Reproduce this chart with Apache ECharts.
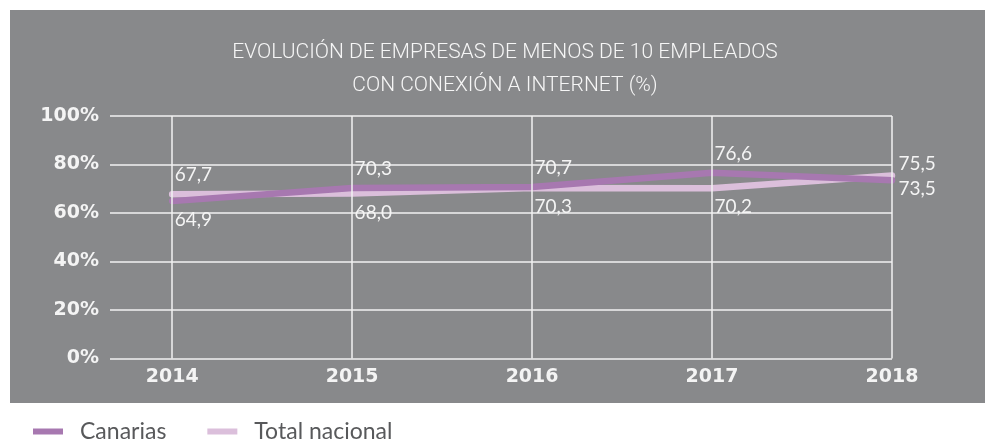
<!DOCTYPE html>
<html><head><meta charset="utf-8">
<script src="https://cdn.jsdelivr.net/npm/echarts@6/dist/echarts.min.js"></script>
<style>html,body{margin:0;padding:0;background:#fff}#c{width:985px;height:439px}</style>
</head><body><div id="c"></div>
<script>
const years = [2014, 2015, 2016, 2017, 2018];
const canarias = [64.9, 70.3, 70.7, 76.6, 73.5];
const totalNacional = [67.7, 68.0, 70.3, 70.2, 75.5];
const yTicks = [0, 20, 40, 60, 80, 100];
const seriesNames = ['Canarias', 'Total nacional'];
const titleText = 'EVOLUCIÓN DE EMPRESAS DE MENOS DE 10 EMPLEADOS\nCON CONEXIÓN A INTERNET (%)';

const COL_C = '#a778b0', COL_T = '#dbbfdb', BG = '#88898b';
const fmt = v => v.toFixed(1).replace('.', ',');

function buildData(vals, other) {
  return vals.map((v, i) => {
    const up = v >= other[i];
    const last = i === vals.length - 1;
    return {
      value: [years[i], v],
      label: {
        show: true,
        position: 'right',
        distance: last ? 6 : 2,
        offset: [0, up ? (last ? -12 : -19) : (last ? 9 : 19)],
        formatter: () => fmt(v),
        color: '#f4f4f4',
        fontFamily: 'Lato',
        fontSize: 19
      }
    };
  });
}

const chart = echarts.init(document.getElementById('c'));
chart.setOption({
  animation: false,
  graphic: [{ type: 'rect', left: 10, top: 10, shape: { width: 975, height: 393 }, style: { fill: BG }, z: -10 }],
  title: {
    text: titleText, left: 500, top: 31, textAlign: 'center',
    textStyle: { color: '#f6f6f6', fontFamily: 'Roboto', fontWeight: 300, fontSize: 21, lineHeight: 33 }
  },
  legend: {
    data: seriesNames, left: 33, top: 420, padding: 0, icon: 'rect', itemWidth: 30, itemHeight: 6, itemGap: 41,
    textStyle: { color: '#58595b', fontFamily: 'Lato', fontSize: 23, padding: [0, 0, 0, 12] }
  },
  grid: { left: 110, right: 93, top: 116, bottom: 80.5, containLabel: false },
  xAxis: {
    type: 'value', min: 2014 - 62 / 179.5, max: 2018,
    axisLine: { show: false }, axisTick: { show: false }, splitLine: { show: false },
    axisLabel: {
      customValues: years, margin: 9, formatter: v => String(v),
      color: '#f4f4f4', fontFamily: 'DejaVu Sans', fontWeight: 'bold', fontSize: 19
    }
  },
  yAxis: {
    type: 'value', min: yTicks[0], max: yTicks[yTicks.length - 1], interval: 20,
    axisLine: { show: false }, axisTick: { show: false },
    splitLine: { lineStyle: { color: '#f2f2f2', width: 1.5 } },
    axisLabel: { formatter: '{value}%', margin: 11, color: '#f4f4f4', fontFamily: 'DejaVu Sans', fontWeight: 'bold', fontSize: 19 }
  },
  series: [
    {
      name: 'grid', type: 'line', data: [], z: 1, silent: true,
      markLine: {
        silent: true, symbol: 'none', animation: false, label: { show: false },
        lineStyle: { color: '#f2f2f2', width: 1.5, type: 'solid' },
        data: years.map(y => ({ xAxis: y }))
      }
    },
    {
      name: seriesNames[1], type: 'line', z: 3, symbol: 'circle', symbolSize: 1, showSymbol: true, color: COL_T,
      itemStyle: { color: COL_T },
      lineStyle: { width: 6.5, color: COL_T, cap: 'round' },
      data: buildData(totalNacional, canarias)
    },
    {
      name: seriesNames[0], type: 'line', z: 4, symbol: 'circle', symbolSize: 1, showSymbol: true, color: COL_C,
      itemStyle: { color: COL_C },
      lineStyle: { width: 6.5, color: COL_C, cap: 'round' },
      data: buildData(canarias, totalNacional)
    }
  ]
});
</script></body></html>
